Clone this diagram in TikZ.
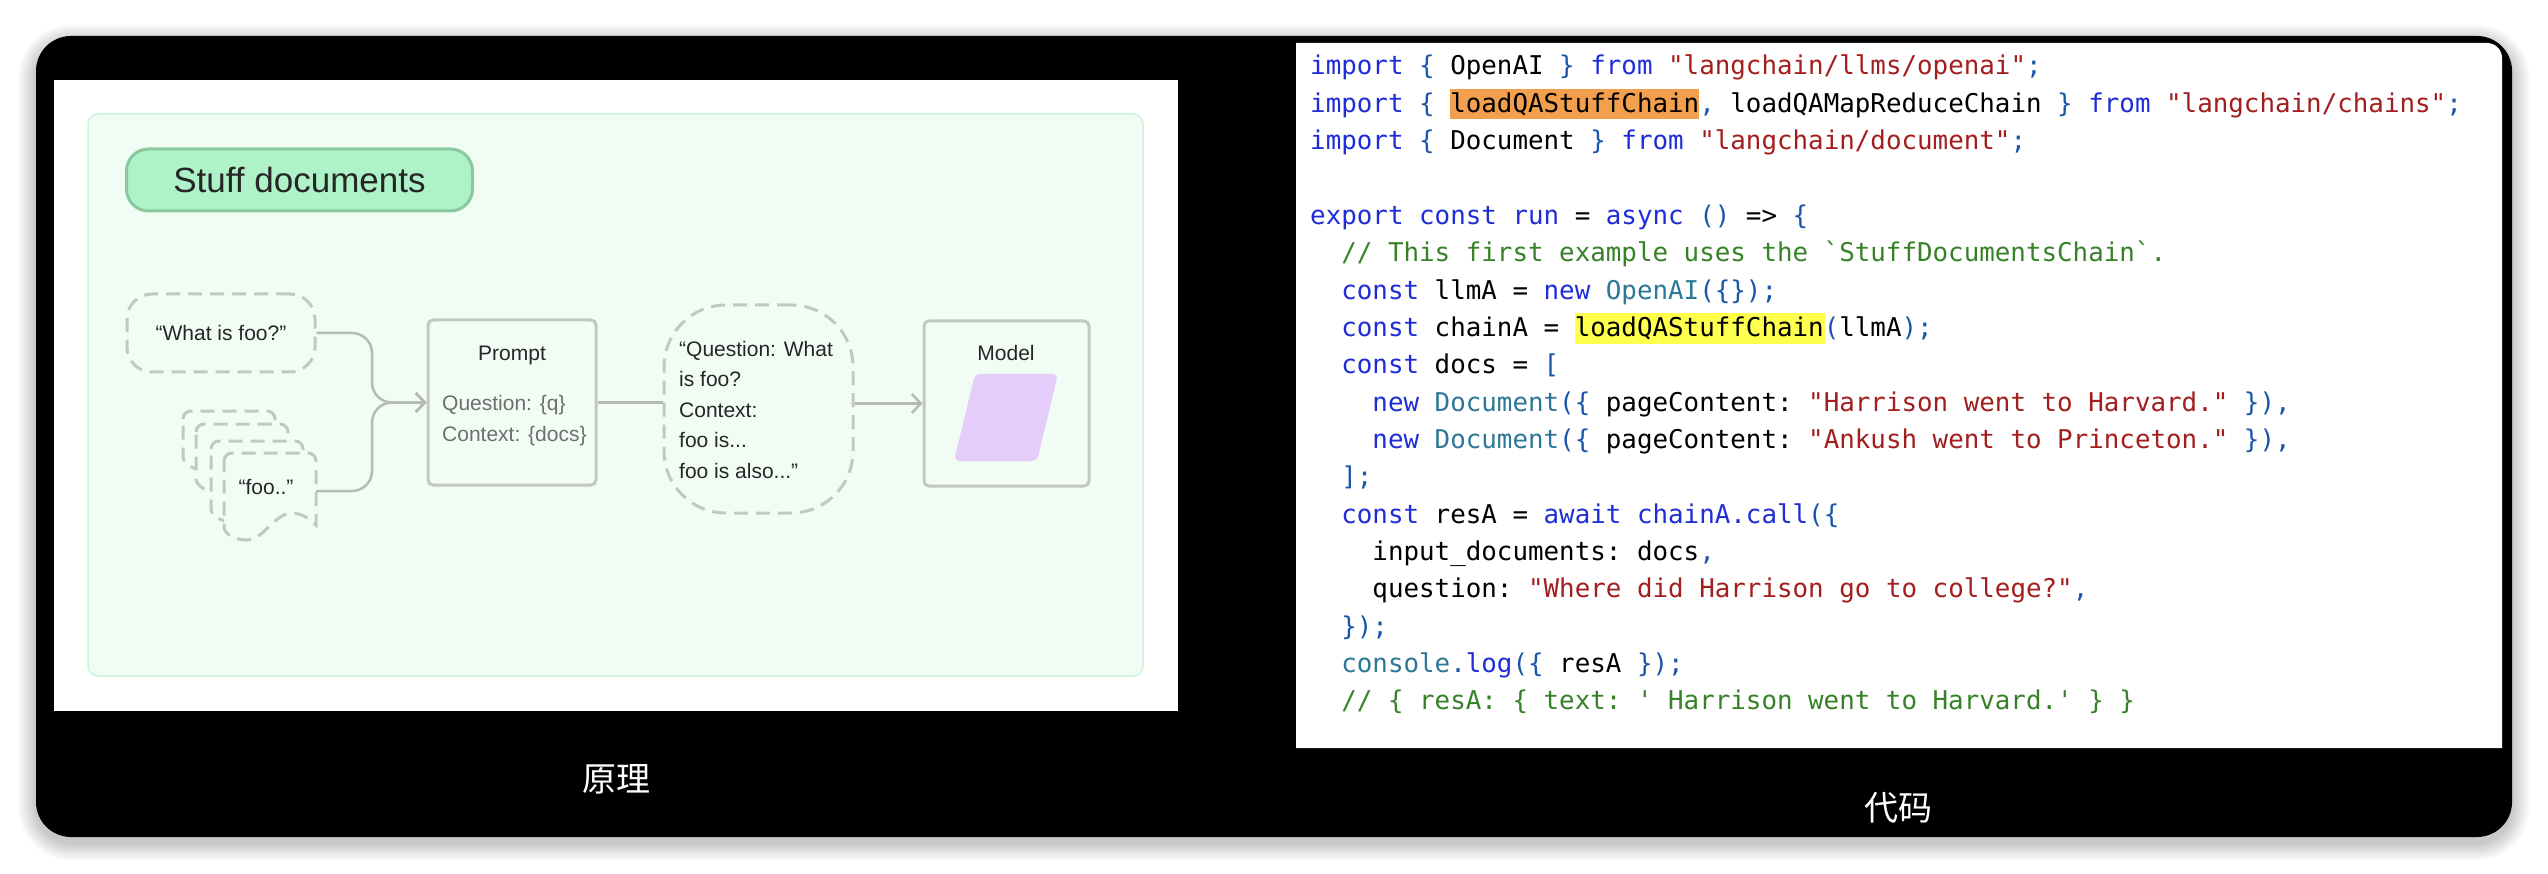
\documentclass[tikz,border=0pt]{standalone}
\usepackage{fontspec}
\usetikzlibrary{arrows.meta}
\newfontfamily\dfont{Liberation Sans}
\newfontfamily\cjkfont{Noto Sans CJK SC}
\setmonofont{DejaVu Sans Mono}
\definecolor{panelgreen}{RGB}{241,252,245}
\definecolor{greenbd}{RGB}{205,244,220}
\definecolor{pillgreen}{RGB}{174,242,200}
\definecolor{pillbd}{RGB}{138,200,158}
\definecolor{graybd}{RGB}{195,199,196}
\definecolor{conncol}{RGB}{182,186,183}
\definecolor{purp}{RGB}{228,204,251}
\definecolor{txt}{RGB}{38,38,38}
\definecolor{vartxt}{RGB}{110,110,110}
\definecolor{kwc}{RGB}{30,45,215}
\definecolor{punc}{RGB}{25,85,170}
\definecolor{typc}{RGB}{45,120,150}
\definecolor{strc}{RGB}{163,30,30}
\definecolor{cmtc}{RGB}{55,130,40}
\definecolor{orangehl}{RGB}{243,160,78}
\definecolor{yellowhl}{RGB}{255,255,77}
\newcommand\ckw[1]{\textcolor{kwc}{#1}}
\newcommand\cpun[1]{\textcolor{punc}{#1}}
\newcommand\ctyp[1]{\textcolor{typc}{#1}}
\newcommand\cstr[1]{\textcolor{strc}{#1}}
\newcommand\ccmt[1]{\textcolor{cmtc}{#1}}
\newcommand\diagfont{\dfont\fontsize{21pt}{25pt}\selectfont}
\newcommand\codeln[3]{\node[codeline] (c#1) at ({1310+#2*15.56},{75+(#1-1)*37.35}) {#3};}
\newcommand\mydoc[3]{%
  \draw[docdash] ({#1},{#2+8}) arc[start angle=180,end angle=90,radius=8pt]
    -- ({#1+84},{#2}) arc[start angle=90,end angle=0,radius=8pt]
    -- ({#1+92},{#2+#3-3})
    .. controls ({#1+81},{#2+#3-13}) and ({#1+74},{#2+#3-16}) .. ({#1+63},{#2+#3-14})
    .. controls ({#1+48},{#2+#3-10}) and ({#1+38},{#2+#3+12}) .. ({#1+23},{#2+#3+12})
    .. controls ({#1+11},{#2+#3+12}) and ({#1+2},{#2+#3+7}) .. ({#1},{#2+#3}) -- cycle;}
\tikzset{
  solidbox/.style={draw=graybd, fill=panelgreen, line width=3pt, rounded corners=5pt, inner sep=0pt},
  dashbox/.style={draw=graybd, fill=panelgreen, line width=3pt, dash pattern=on 14pt off 8pt, inner sep=0pt, font=\diagfont, text=txt},
  docdash/.style={draw=graybd, fill=panelgreen, line width=3pt, dash pattern=on 14pt off 8pt},
  conn/.style={draw=conncol, line width=2.5pt},
  arr/.style={-{Straight Barb[length=9pt,width=19pt]}},
  difflabel/.style={inner sep=0pt, font=\diagfont, text=txt},
  varlabel/.style={inner sep=0pt, font=\diagfont, text=vartxt, anchor=base west},
  bubblelabel/.style={inner sep=0pt, font=\diagfont, text=txt, anchor=base west},
  codeline/.style={inner sep=0pt, anchor=base west, font=\ttfamily\fontsize{25.85pt}{30pt}\selectfont\frenchspacing, text=black},
  cnlabel/.style={inner sep=0pt, text=white, font=\cjkfont\fontsize{34pt}{40pt}\selectfont},
}
\begin{document}
\begin{tikzpicture}[x=1pt,y=-1pt]
\useasboundingbox (0,0) rectangle (2548,874);
\fill[white] (0,0) rectangle (2548,874);
% soft shadow
\foreach \i in {1,...,18}{
  \fill[black,opacity=0.012,rounded corners={(36+\i)*1pt}] ({36-\i},{36-\i+6}) rectangle ({2512+\i},{837+\i+6});
}
\fill[black, rounded corners=35pt] (36,36) rectangle (2512,837);
% left image panel
\fill[white] (54,80) rectangle (1178,711);
\draw[draw=greenbd, fill=panelgreen, line width=1.5pt, rounded corners=10pt] (88,114) rectangle (1143,676);
\node[draw=pillbd, fill=pillgreen, line width=3pt, rounded corners=22pt, minimum width=346pt, minimum height=62pt, inner sep=0pt,
  font=\dfont\fontsize{35pt}{40pt}\selectfont, text=txt] (title) at (299.5,180) {Stuff documents};
% question node
\node[dashbox, rounded corners=25pt, minimum width=188pt, minimum height=78pt] (q) at (221,333) {“What is foo?”};
% documents stack
\mydoc{183}{411}{47}
\mydoc{196}{424}{56}
\mydoc{211}{441}{69}
\mydoc{224}{453}{75}
\coordinate (d4e) at (316,491);
\node[difflabel, anchor=base] (foo) at (266,494) {“foo..”};
% prompt
\node[solidbox, minimum width=168pt, minimum height=165pt] (prompt) at (512,402.5) {};
\node[difflabel, anchor=base] (promptlbl) at (512,361) {Prompt};
\node[varlabel] (qv) at (442,410) {Question: \{q\}};
\node[varlabel] (cv) at (442,441) {Context: \{docs\}};
% bubble
\node[dashbox, rounded corners=62pt, minimum width=189pt, minimum height=208pt] (bubble) at (758.5,409) {};
\node[bubblelabel] (b1) at (679,356) {“Question: What};
\node[bubblelabel] (b2) at (679,386.6) {is foo?};
\node[bubblelabel] (b3) at (679,417.2) {Context:};
\node[bubblelabel] (b4) at (679,447.8) {foo is...};
\node[bubblelabel] (b5) at (679,478.4) {foo is also...”};
% model
\node[solidbox, minimum width=165pt, minimum height=165pt] (model) at (1006.5,403.5) {};
\node[difflabel, anchor=base] (modellbl) at (1006,361) {Model};
\fill[purp, rounded corners=5pt] (975,374) -- (1058,374) -- (1037,461) -- (954,461) -- cycle;
% connectors
\draw[conn, arr, rounded corners=20pt] (q.east) -- (372,333) -- (372,402.5) -- (prompt.west);
\draw[conn, arr, rounded corners=20pt] (d4e) -- (372,491) -- (372,402.5) -- (prompt.west);
\draw[conn] (prompt.east) -- (prompt.east -| bubble.west);
\draw[conn, arr] (bubble.east |- model.west) -- (model.west);
% label
\node[cnlabel] (lbl1) at (616,779) {原理};
% code panel
\fill[white] (1296,43) -- (2487,43) arc[start angle=90,end angle=0,radius=15pt] -- (2502,748) -- (1296,748) -- cycle;
\fill[orangehl] (1450,89) rectangle (1699,119);
\fill[yellowhl] (1575,313) rectangle (1825,344);
\codeln{1}{0}{\ckw{import} \cpun{\{} OpenAI \cpun{\}} \ckw{from} \cstr{"langchain/llms/openai"}\cpun{;}}
\codeln{2}{0}{\ckw{import} \cpun{\{} loadQAStuffChain\cpun{,} loadQAMapReduceChain \cpun{\}} \ckw{from} \cstr{"langchain/chains"}\cpun{;}}
\codeln{3}{0}{\ckw{import} \cpun{\{} Document \cpun{\}} \ckw{from} \cstr{"langchain/document"}\cpun{;}}
\codeln{5}{0}{\ckw{export} \ckw{const} \ckw{run} = \ckw{async} \cpun{()} => \cpun{\{}}
\codeln{6}{2}{\ccmt{// This first example uses the `StuffDocumentsChain`.}}
\codeln{7}{2}{\ckw{const} llmA = \ckw{new} \ctyp{OpenAI}\cpun{(\{\});}}
\codeln{8}{2}{\ckw{const} chainA = loadQAStuffChain\cpun{(}llmA\cpun{);}}
\codeln{9}{2}{\ckw{const} docs = \cpun{[}}
\codeln{10}{4}{\ckw{new} \ctyp{Document}\cpun{(\{} pageContent: \cstr{"Harrison went to Harvard."} \cpun{\}),}}
\codeln{11}{4}{\ckw{new} \ctyp{Document}\cpun{(\{} pageContent: \cstr{"Ankush went to Princeton."} \cpun{\}),}}
\codeln{12}{2}{\cpun{];}}
\codeln{13}{2}{\ckw{const} resA = \ckw{await} \ckw{chainA.call}\cpun{(\{}}
\codeln{14}{4}{input\_documents: docs\cpun{,}}
\codeln{15}{4}{question: \cstr{"Where did Harrison go to college?"}\cpun{,}}
\codeln{16}{2}{\cpun{\});}}
\codeln{17}{2}{\ctyp{console}\cpun{.}\ckw{log}\cpun{(\{} resA \cpun{\});}}
\codeln{18}{2}{\ccmt{// \{ resA: \{ text: ' Harrison went to Harvard.' \} \}}}
\node[cnlabel] (lbl2) at (1898,808) {代码};
\end{tikzpicture}
\end{document}
